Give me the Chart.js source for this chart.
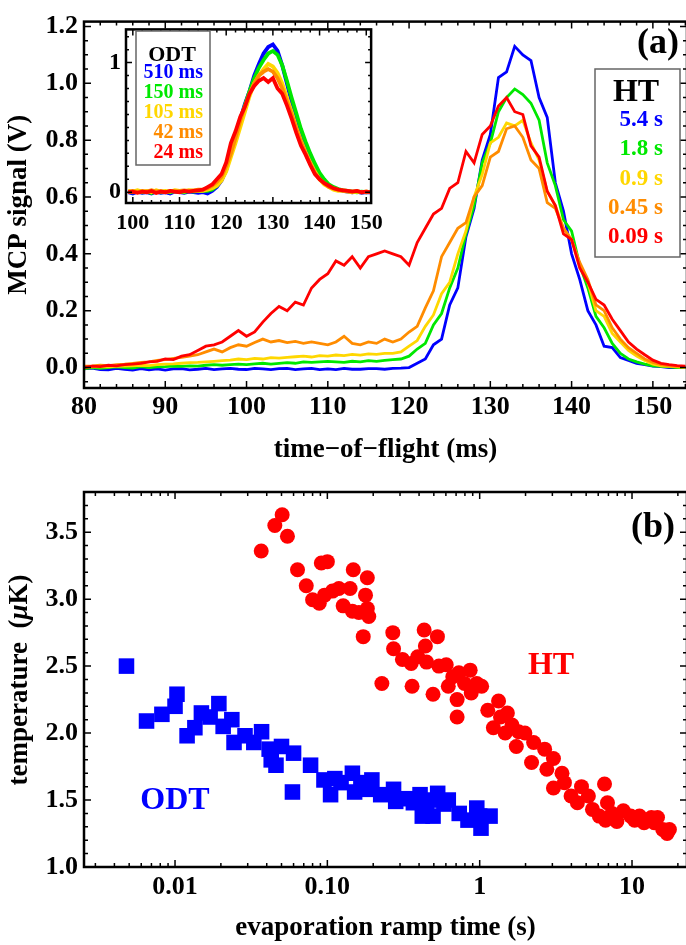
<!DOCTYPE html>
<html>
<head>
<meta charset="utf-8">
<script src="https://cdn.jsdelivr.net/npm/chart.js@4.4.1/dist/chart.umd.min.js"></script>
<style>
    html, body { margin: 0; padding: 0; background: #fff; overflow: hidden; }
    #page { position: relative; width: 686px; height: 945px; overflow: hidden; background: #fff; }
    canvas { position: absolute; }
    #tofChart { left: 0; top: 0; }
    #insetChart { left: 90px; top: 10px; }
    #tempChart { left: 0; top: 470px; }
</style>
</head>
<body>
<div id="page">
    <canvas id="tofChart" width="700" height="470"></canvas>
    <canvas id="insetChart" width="300" height="230"></canvas>
    <canvas id="tempChart" width="700" height="475"></canvas>
</div>
<script>
// (a) time-of-flight traces, HT ramps
const tofTimes = [
    80, 81, 82, 83, 84, 85, 86, 87, 88, 89, 90, 91, 92, 93, 94, 95, 96, 97, 98, 99,
    100, 101, 102, 103, 104, 105, 106, 107, 108, 109, 110, 111, 112, 113, 114, 115, 116, 117, 118, 119,
    120, 121, 122, 123, 124, 125, 126, 127, 128, 129, 130, 131, 132, 133, 134, 135, 136, 137, 138, 139,
    140, 141, 142, 143, 144, 145, 146, 147, 148, 149, 150, 151, 152, 153, 154,
];
const ht54s = [
    -0.005, -0.002, -0.007, -0.008, -0.003, -0.006, -0.009, -0.004, -0.008, -0.005,
    -0.009, -0.005, -0.004, -0.008, -0.006, -0.003, -0.007, -0.005, -0.003, -0.006,
    -0.007, -0.003, -0.005, -0.007, -0.004, -0.003, -0.007, -0.005, -0.003, -0.007,
    -0.005, -0.007, -0.003, -0.006, -0.006, -0.004, -0.004, -0.006, -0.003, -0.002,
    0.0, 0.015, 0.03, 0.08, 0.1, 0.22, 0.28, 0.46, 0.56, 0.73,
    0.82, 1.02, 1.04, 1.13, 1.10, 1.08, 0.95, 0.88, 0.65, 0.55,
    0.40, 0.31, 0.20, 0.15, 0.075, 0.07, 0.035, 0.025, 0.015, 0.01,
    0.005, 0.003, 0.0, 0.0, 0.0,
];
const ht18s = [
    -0.005, 0.0, -0.003, 0.0, 0.002, 0.0, -0.002, 0.003, 0.0, 0.002,
    0.003, 0.005, 0.004, 0.006, 0.005, 0.008, 0.01, 0.008, 0.01, 0.012,
    0.01, 0.013, 0.015, 0.012, 0.015, 0.017, 0.015, 0.02, 0.018, 0.02,
    0.022, 0.02, 0.018, 0.022, 0.02, 0.024, 0.022, 0.025, 0.028, 0.03,
    0.04, 0.065, 0.085, 0.15, 0.19, 0.28, 0.35, 0.47, 0.57, 0.72,
    0.79, 0.9, 0.95, 0.98, 0.96, 0.93, 0.87, 0.72, 0.64, 0.52,
    0.48, 0.36, 0.28, 0.18, 0.14, 0.085, 0.05, 0.03, 0.02, 0.012,
    0.006, 0.004, 0.002, 0.0, 0.0,
];
const ht09s = [
    0.0, 0.002, 0.003, 0.002, 0.004, 0.005, 0.006, 0.008, 0.007, 0.01,
    0.012, 0.013, 0.015, 0.017, 0.018, 0.02, 0.022, 0.024, 0.026, 0.03,
    0.028, 0.032, 0.03, 0.035, 0.033, 0.036, 0.038, 0.04, 0.037, 0.042,
    0.04, 0.044, 0.042, 0.046, 0.044, 0.048, 0.046, 0.05, 0.05, 0.055,
    0.075, 0.095, 0.145, 0.185, 0.26, 0.3, 0.4, 0.48, 0.6, 0.68,
    0.79, 0.81, 0.86, 0.85, 0.87, 0.79, 0.73, 0.62, 0.57, 0.49,
    0.45, 0.36, 0.3, 0.2, 0.18, 0.12, 0.09, 0.06, 0.04, 0.025,
    0.012, 0.006, 0.004, 0.002, 0.0,
];
const ht045s = [
    0.005, 0.006, 0.008, 0.007, 0.01, 0.012, 0.015, 0.018, 0.02, 0.025,
    0.028, 0.032, 0.036, 0.04, 0.045, 0.055, 0.065, 0.055, 0.07, 0.08,
    0.075, 0.088, 0.1, 0.09, 0.095, 0.088, 0.092, 0.085, 0.09, 0.085,
    0.08, 0.09, 0.11, 0.085, 0.08, 0.09, 0.085, 0.1, 0.09, 0.1,
    0.125, 0.145, 0.21, 0.27, 0.39, 0.44, 0.49, 0.51, 0.6, 0.64,
    0.74, 0.76, 0.84, 0.85, 0.81, 0.73, 0.7, 0.58, 0.56, 0.49,
    0.45, 0.37, 0.31, 0.22, 0.2, 0.14, 0.1, 0.07, 0.05, 0.03,
    0.018, 0.01, 0.006, 0.004, 0.002,
];
const ht009s = [
    0.0, 0.005, 0.003, 0.008, 0.006, 0.01, 0.012, 0.015, 0.02, 0.022,
    0.03, 0.028, 0.04, 0.045, 0.06, 0.075, 0.08, 0.09, 0.11, 0.13,
    0.11, 0.125, 0.16, 0.19, 0.215, 0.2, 0.23, 0.22, 0.28, 0.31,
    0.33, 0.375, 0.36, 0.39, 0.35, 0.39, 0.4, 0.41, 0.4, 0.39,
    0.36, 0.44, 0.49, 0.54, 0.56, 0.63, 0.65, 0.76, 0.72, 0.82,
    0.85, 0.92, 0.95, 0.9, 0.89, 0.78, 0.74, 0.62, 0.57, 0.47,
    0.45, 0.35, 0.3, 0.24, 0.22, 0.17, 0.13, 0.09, 0.065, 0.045,
    0.026, 0.015, 0.01, 0.007, 0.005,
];
const htLabels = ['5.4 s', '1.8 s', '0.9 s', '0.45 s', '0.09 s'];

// inset: ODT ramps
const odtTimes = [
    99, 100, 101, 102, 103, 104, 105, 106, 107, 108, 109, 110, 111, 112, 113, 114,
    115, 116, 117, 118, 119, 120, 121, 122, 123, 124, 125, 126, 127, 128, 129, 130,
    131, 132, 133, 134, 135, 136, 137, 138, 139, 140, 141, 142, 143, 144, 145, 146,
    147, 148, 149, 150, 151,
];
const odt510 = [
    0, -0.01, 0.005, -0.005, 0, -0.01, 0.005, -0.005, 0, -0.01, 0.005, 0, -0.005, 0.005, 0, -0.005,
    0.0, -0.01, 0.01, 0.04, 0.09, 0.17, 0.3, 0.42, 0.56, 0.68,
    0.78, 0.9, 0.99, 1.07, 1.12, 1.14, 1.09, 0.98, 0.84, 0.7,
    0.59, 0.46, 0.37, 0.28, 0.2, 0.13, 0.08, 0.05, 0.03, 0.02,
    0.01, 0.005, 0, 0.005, -0.005, 0, 0,
];
const odt150 = [
    0.005, 0, 0.01, 0, 0.005, -0.005, 0.01, 0, 0.005, 0, 0.01, 0.005, 0, 0.01, 0.005, 0.01,
    0.01, 0.01, 0.02, 0.05, 0.1, 0.18, 0.3, 0.42, 0.55, 0.67,
    0.78, 0.88, 0.96, 1.02, 1.07, 1.09, 1.06, 0.98, 0.86, 0.73,
    0.61, 0.49, 0.39, 0.3, 0.22, 0.15, 0.1, 0.06, 0.04, 0.025,
    0.015, 0.01, 0.005, 0, 0.005, 0, 0.005,
];
const odt105 = [
    0.01, 0.005, 0.015, 0.005, 0.01, 0, 0.015, 0.005, 0.01, 0.005, 0.015, 0.01, 0.005, 0.015, 0.01, 0.01,
    0.01, 0.02, 0.03, 0.05, 0.09, 0.16, 0.27, 0.38, 0.5, 0.62,
    0.74, 0.84, 0.9, 0.95, 0.99, 0.97, 0.92, 0.84, 0.73, 0.62,
    0.5, 0.4, 0.31, 0.23, 0.16, 0.1, 0.06, 0.04, 0.02, 0.01,
    0.01, 0.005, 0, 0.005, 0, 0.005, 0,
];
const odt42 = [
    0.005, 0.01, 0, 0.01, 0.005, 0.015, 0.005, 0.01, 0, 0.01, 0.005, 0.01, 0.015, 0.01, 0.015, 0.02,
    0.02, 0.03, 0.05, 0.08, 0.12, 0.2, 0.3, 0.42, 0.55, 0.66,
    0.76, 0.84, 0.9, 0.93, 0.95, 0.93, 0.88, 0.8, 0.7, 0.6,
    0.49, 0.39, 0.3, 0.22, 0.15, 0.1, 0.07, 0.04, 0.03, 0.02,
    0.015, 0.01, 0.005, 0.01, 0, 0.005, 0,
];
const odt24 = [
    0, 0.005, -0.005, 0.005, 0, 0.01, -0.005, 0.005, 0, 0.01, 0.005, 0, 0.01, 0.005, 0.01, 0.015,
    0.02, 0.04, 0.06, 0.1, 0.14, 0.23, 0.38, 0.47, 0.58, 0.66,
    0.76, 0.82, 0.86, 0.88, 0.85, 0.88, 0.8, 0.76, 0.67, 0.57,
    0.46, 0.36, 0.29, 0.21, 0.14, 0.1, 0.07, 0.05, 0.03, 0.02,
    0.015, 0.01, 0.005, 0.01, 0, 0.005, 0,
];
const odtLabels = ['510 ms', '150 ms', '105 ms', '42 ms', '24 ms'];

// (b) temperature vs evaporation ramp time
const odtRampTimes = [
    0.0048, 0.0065, 0.0082, 0.01, 0.0103, 0.012, 0.0135, 0.0149, 0.017, 0.0194,
    0.0207, 0.0236, 0.0244, 0.0288, 0.0329, 0.037, 0.0415, 0.0428, 0.046, 0.05,
    0.06, 0.059, 0.0776, 0.095, 0.105, 0.112, 0.123, 0.146, 0.151, 0.166,
    0.183, 0.196, 0.224, 0.272, 0.281, 0.333, 0.367, 0.406, 0.42, 0.448,
    0.48, 0.494, 0.53, 0.583, 0.622, 0.734, 0.838, 0.957, 1.0, 1.02, 1.17,
];
const odtTemps = [
    2.50, 2.09, 2.14, 2.20, 2.29, 1.98, 2.04, 2.15, 2.12, 2.22,
    2.05, 2.10, 1.93, 1.98, 1.93, 2.01, 1.88, 1.80, 1.76, 1.90,
    1.85, 1.56, 1.76, 1.65, 1.54, 1.66, 1.63, 1.70, 1.56, 1.63,
    1.58, 1.65, 1.54, 1.58, 1.49, 1.51, 1.48, 1.54, 1.38, 1.44,
    1.50, 1.38, 1.55, 1.47, 1.50, 1.40, 1.35, 1.44, 1.38, 1.29, 1.38,
];
const htRampTimes = [
    0.0368, 0.0452, 0.0505, 0.0547, 0.0637, 0.0727, 0.080, 0.0885, 0.0913, 0.1,
    0.0958, 0.108, 0.119, 0.127, 0.141, 0.148, 0.146, 0.161, 0.172, 0.178,
    0.183, 0.183, 0.187, 0.228, 0.269, 0.272, 0.311, 0.355, 0.36, 0.392,
    0.432, 0.44, 0.448, 0.494, 0.528, 0.54, 0.603, 0.622, 0.666, 0.711,
    0.711, 0.73, 0.795, 0.866, 0.88, 0.957, 1.03, 1.13, 1.23, 1.33,
    1.37, 1.47, 1.52, 1.63, 1.74, 1.80, 1.98, 2.19, 2.26, 2.67,
    2.76, 3.05, 3.05, 3.47, 3.6, 3.98, 4.38, 4.66, 5.17, 5.5,
    6.10, 6.6, 6.7, 6.9, 7.4, 7.95, 8.77, 9.8, 10.4, 11.2,
    12.0, 13.4, 14.0, 14.7, 15.9, 17.0, 17.6,
];
const htTemps = [
    3.36, 3.55, 3.63, 3.47, 3.22, 3.10, 2.995, 2.97, 3.27, 3.28,
    3.03, 3.06, 3.08, 2.95, 3.08, 3.22, 2.91, 2.90, 2.72, 3.03,
    3.16, 2.93, 2.87, 2.37, 2.75, 2.63, 2.55, 2.52, 2.35, 2.57,
    2.77, 2.65, 2.53, 2.29, 2.72, 2.50, 2.51, 2.35, 2.42, 2.25,
    2.12, 2.45, 2.37, 2.47, 2.30, 2.37, 2.35, 2.17, 2.04, 2.24,
    2.12, 2.00, 2.15, 2.06, 1.90, 2.01, 2.00, 1.78, 1.93, 1.88,
    1.73, 1.81, 1.59, 1.70, 1.63, 1.53, 1.48, 1.60, 1.53, 1.43,
    1.38, 1.62, 1.35, 1.48, 1.40, 1.34, 1.42, 1.38, 1.35, 1.38,
    1.33, 1.37, 1.33, 1.37, 1.28, 1.25, 1.28,
];

// tick values and labels
const tofXTicks = [80, 90, 100, 110, 120, 130, 140, 150];
const tofYTicks = [0, 0.2, 0.4, 0.6, 0.8, 1.0, 1.2];
const insetXTicks = [100, 110, 120, 130, 140, 150];
const insetYTicks = [0, 1];
const tempXTicks = [0.01, 0.1, 1, 10];
const tempXTickLabels = ['0.01', '0.10', '1', '10'];
const tempYTicks = [1.0, 1.5, 2.0, 2.5, 3.0, 3.5];

const seriesColors = ['#0000ff', '#00e800', '#ffd700', '#ff8c00', '#ff0000'];
const FONT_FAMILY = '"Liberation Serif", "Times New Roman", serif';
const TICK_SIZE = 26;
const TITLE_SIZE = 27;

const main = () => {
    createTofChart();
    createInsetChart();
    createTempChart();
};

/**
 * Values from start to end with a fixed step (used for minor tick marks only).
 */
const steps = (start, end, step) => {
    const ret = [];
    for (let v = start; v <= end + 1e-9; v += step) {
        ret.push(Math.round(v * 1000) / 1000);
    }
    return ret;
};

/**
 * Frame with inward ticks on all four sides.
 */
const frameTicks = {
    id: 'frameTicks',
    afterDatasetsDraw: (chart, args, opts) => {
        const { ctx, chartArea: area, scales } = chart;
        const xScale = scales.x;
        const yScale = scales.y;
        ctx.save();
        ctx.strokeStyle = '#000';
        ctx.lineWidth = opts.tickWidth;
        ctx.beginPath();

        const drawX = (values, len) => {
            values.forEach((v) => {
                const px = xScale.getPixelForValue(v);
                if (px < area.left - 0.5 || px > area.right + 0.5) return;
                ctx.moveTo(px, area.bottom);
                ctx.lineTo(px, area.bottom - len);
                ctx.moveTo(px, area.top);
                ctx.lineTo(px, area.top + len);
            });
        };
        const drawY = (values, len) => {
            values.forEach((v) => {
                const py = yScale.getPixelForValue(v);
                if (py < area.top - 0.5 || py > area.bottom + 0.5) return;
                ctx.moveTo(area.left, py);
                ctx.lineTo(area.left + len, py);
                ctx.moveTo(area.right, py);
                ctx.lineTo(area.right - len, py);
            });
        };

        drawX(opts.xMajor, opts.majorLength);
        drawX(opts.xMinor, opts.minorLength);
        drawY(opts.yMajor, opts.majorLength);
        drawY(opts.yMinor, opts.minorLength);
        ctx.stroke();

        ctx.lineWidth = opts.frameWidth;
        ctx.strokeRect(area.left, area.top, area.right - area.left, area.bottom - area.top);
        ctx.restore();
    },
};

/**
 * Legend boxes and free text labels (a text may be made of plain and italic parts).
 */
const textMarks = {
    id: 'textMarks',
    afterDraw: (chart, args, opts) => {
        const ctx = chart.ctx;
        ctx.save();
        (opts.boxes || []).forEach((box) => {
            ctx.fillStyle = '#fff';
            ctx.fillRect(box.x, box.y, box.w, box.h);
            ctx.strokeStyle = '#666';
            ctx.lineWidth = 1.5;
            ctx.strokeRect(box.x, box.y, box.w, box.h);
        });
        (opts.texts || []).forEach((item) => {
            const parts = item.parts || [{ text: item.text, italic: false }];
            const fontOf = (part) => (part.italic ? 'italic ' : '') + 'bold ' + item.size + 'px ' + FONT_FAMILY;
            let total = 0;
            parts.forEach((part) => {
                ctx.font = fontOf(part);
                total += ctx.measureText(part.text).width;
            });

            ctx.save();
            ctx.translate(item.x, item.y);
            if (item.rotate) {
                ctx.rotate(item.rotate);
            }
            ctx.fillStyle = item.color;
            ctx.textAlign = 'left';
            ctx.textBaseline = 'middle';
            let pos = item.align === 'right' ? -total : item.align === 'center' ? -total / 2 : 0;
            parts.forEach((part) => {
                ctx.font = fontOf(part);
                ctx.fillText(part.text, pos, 0);
                pos += ctx.measureText(part.text).width;
            });
            ctx.restore();
        });
        ctx.restore();
    },
};

const tickFont = (size) => ({ family: FONT_FAMILY, size: size, weight: 'bold' });

/**
 * Builds one line dataset per series.
 */
const lineDatasets = (times, seriesList, labels, width) => {
    return seriesList.map((values, i) => ({
        label: labels[i],
        data: times.map((t, j) => ({ x: t, y: values[j] })),
        borderColor: seriesColors[i],
        backgroundColor: seriesColors[i],
        borderWidth: width,
        pointRadius: 0,
        tension: 0,
        order: seriesList.length - i,
    }));
};

/**
 * Panel (a): time-of-flight traces.
 */
const createTofChart = () => {
    const legendTexts = htLabels.map((label, i) => ({
        text: label, x: 663, y: 120 + i * 29.3, size: 23, color: seriesColors[i], align: 'right',
    }));

    const config = {
        type: 'line',
        data: {
            datasets: lineDatasets(tofTimes, [ht54s, ht18s, ht09s, ht045s, ht009s], htLabels, 2.8),
        },
        options: {
            responsive: false,
            animation: false,
            layout: { padding: { top: 14, right: 13, left: 0, bottom: 0 } },
            plugins: {
                legend: { display: false },
                tooltip: { enabled: false },
                frameTicks: {
                    xMajor: tofXTicks,
                    xMinor: steps(80, 154, 2),
                    yMajor: tofYTicks,
                    yMinor: steps(-0.05, 1.2, 0.05),
                    majorLength: 7,
                    minorLength: 4,
                    tickWidth: 1.5,
                    frameWidth: 2.5,
                },
                textMarks: {
                    boxes: [{ x: 595, y: 69, w: 85, h: 188 }],
                    texts: [
                        { text: '(a)', x: 658, y: 44, size: 36, color: '#000', align: 'center' },
                        { text: 'HT', x: 636, y: 93, size: 32, color: '#000', align: 'center' },
                    ].concat(legendTexts),
                },
            },
            scales: {
                x: {
                    type: 'linear',
                    min: 80,
                    max: 154.2,
                    grid: { display: false, drawTicks: false },
                    border: { display: false },
                    ticks: { font: tickFont(TICK_SIZE), color: '#000', padding: 4, maxRotation: 0, autoSkip: false },
                    afterBuildTicks: (scale) => {
                        scale.ticks = tofXTicks.map((v) => ({ value: v }));
                    },
                    afterFit: (scale) => {
                        scale.height = 82;
                    },
                    title: {
                        display: true,
                        text: 'time\u2212of\u2212flight (ms)',
                        font: tickFont(TITLE_SIZE),
                        color: '#000',
                        padding: { top: 0, bottom: 4 },
                    },
                },
                y: {
                    min: -0.072,
                    max: 1.217,
                    grid: { display: false, drawTicks: false },
                    border: { display: false },
                    ticks: {
                        font: tickFont(TICK_SIZE),
                        color: '#000',
                        padding: 6,
                        callback: (value) => value.toFixed(1),
                    },
                    afterBuildTicks: (scale) => {
                        scale.ticks = tofYTicks.map((v) => ({ value: v }));
                    },
                    afterFit: (scale) => {
                        scale.width = 84;
                    },
                    title: {
                        display: true,
                        text: 'MCP signal (V)',
                        font: tickFont(TITLE_SIZE),
                        color: '#000',
                        padding: { top: 3, bottom: 0 },
                    },
                },
            },
        },
        plugins: [frameTicks, textMarks],
    };

    return new Chart(document.getElementById('tofChart'), config);
};

/**
 * Inset of panel (a): ODT traces.
 */
const createInsetChart = () => {
    const legendTexts = odtLabels.map((label, i) => ({
        text: label, x: 113, y: 63 + i * 20, size: 20, color: seriesColors[i], align: 'right',
    }));

    const config = {
        type: 'line',
        data: {
            datasets: lineDatasets(odtTimes, [odt510, odt150, odt105, odt42, odt24], odtLabels, 3.8),
        },
        options: {
            responsive: false,
            animation: false,
            layout: { padding: { top: 15, right: 12, left: 0, bottom: 0 } },
            plugins: {
                legend: { display: false },
                tooltip: { enabled: false },
                frameTicks: {
                    xMajor: insetXTicks,
                    xMinor: steps(100, 150, 2),
                    yMajor: insetYTicks,
                    yMinor: steps(0.1, 1.2, 0.1),
                    majorLength: 6,
                    minorLength: 3,
                    tickWidth: 1.5,
                    frameWidth: 2.5,
                },
                textMarks: {
                    boxes: [{ x: 46, y: 21, w: 74, h: 134 }],
                    texts: [
                        { text: 'ODT', x: 82, y: 45, size: 22, color: '#000', align: 'center' },
                    ].concat(legendTexts),
                },
            },
            scales: {
                x: {
                    type: 'linear',
                    min: 98.54,
                    max: 151.04,
                    grid: { display: false, drawTicks: false },
                    border: { display: false },
                    ticks: { font: tickFont(22), color: '#000', padding: 7, maxRotation: 0, autoSkip: false },
                    afterBuildTicks: (scale) => {
                        scale.ticks = insetXTicks.map((v) => ({ value: v }));
                    },
                    afterFit: (scale) => {
                        scale.height = 37;
                    },
                },
                y: {
                    min: -0.083,
                    max: 1.256,
                    grid: { display: false, drawTicks: false },
                    border: { display: false },
                    ticks: { font: tickFont(24), color: '#000', padding: 5 },
                    afterBuildTicks: (scale) => {
                        scale.ticks = insetYTicks.map((v) => ({ value: v }));
                    },
                    afterFit: (scale) => {
                        scale.width = 36;
                    },
                },
            },
        },
        plugins: [frameTicks, textMarks],
    };

    return new Chart(document.getElementById('insetChart'), config);
};

/**
 * Panel (b): temperature against evaporation ramp time.
 */
const createTempChart = () => {
    const minorX = [];
    [0.001, 0.01, 0.1, 1, 10].forEach((decade) => {
        for (let m = 2; m <= 9; m++) {
            minorX.push(decade * m);
        }
    });

    const config = {
        type: 'scatter',
        data: {
            datasets: [
                {
                    label: 'ODT',
                    data: odtRampTimes.map((t, i) => ({ x: t, y: odtTemps[i] })),
                    pointStyle: 'rect',
                    pointRadius: 11,
                    backgroundColor: '#0000ff',
                    borderColor: '#0000ff',
                    borderWidth: 0,
                },
                {
                    label: 'HT',
                    data: htRampTimes.map((t, i) => ({ x: t, y: htTemps[i] })),
                    pointStyle: 'circle',
                    pointRadius: 7.5,
                    backgroundColor: '#ff0000',
                    borderColor: '#ff0000',
                    borderWidth: 0,
                },
            ],
        },
        options: {
            responsive: false,
            animation: false,
            layout: { padding: { top: 22, right: 13, left: 0, bottom: 0 } },
            plugins: {
                legend: { display: false },
                tooltip: { enabled: false },
                frameTicks: {
                    xMajor: tempXTicks,
                    xMinor: minorX,
                    yMajor: tempYTicks,
                    yMinor: steps(1.1, 3.8, 0.1),
                    majorLength: 7,
                    minorLength: 4,
                    tickWidth: 1.5,
                    frameWidth: 2.5,
                },
                textMarks: {
                    texts: [
                        { text: '(b)', x: 653, y: 58, size: 36, color: '#000', align: 'center' },
                        { text: 'HT', x: 551, y: 196, size: 32, color: '#ff0000', align: 'center' },
                        { text: 'ODT', x: 175, y: 331, size: 32, color: '#0000ff', align: 'center' },
                        {
                            parts: [
                                { text: 'temperature  (', italic: false },
                                { text: '\u03bc', italic: true },
                                { text: 'K)', italic: false },
                            ],
                            x: 20,
                            y: 210,
                            rotate: -Math.PI / 2,
                            size: TITLE_SIZE,
                            color: '#000',
                            align: 'center',
                        },
                    ],
                },
            },
            scales: {
                x: {
                    type: 'logarithmic',
                    min: 0.002526,
                    max: 22.96,
                    grid: { display: false, drawTicks: false },
                    border: { display: false },
                    ticks: {
                        font: tickFont(TICK_SIZE),
                        color: '#000',
                        padding: 5,
                        maxRotation: 0,
                        autoSkip: false,
                        callback: (value, index) => tempXTickLabels[index],
                    },
                    afterBuildTicks: (scale) => {
                        scale.ticks = tempXTicks.map((v) => ({ value: v }));
                    },
                    afterFit: (scale) => {
                        scale.height = 78;
                    },
                    title: {
                        display: true,
                        text: 'evaporation ramp time (s)',
                        font: tickFont(TITLE_SIZE),
                        color: '#000',
                        padding: { top: 0, bottom: 1 },
                    },
                },
                y: {
                    min: 1.0,
                    max: 3.8,
                    grid: { display: false, drawTicks: false },
                    border: { display: false },
                    ticks: {
                        font: tickFont(TICK_SIZE),
                        color: '#000',
                        padding: 6,
                        callback: (value) => value.toFixed(1),
                    },
                    afterBuildTicks: (scale) => {
                        scale.ticks = tempYTicks.map((v) => ({ value: v }));
                    },
                    afterFit: (scale) => {
                        scale.width = 84;
                    },
                },
            },
        },
        plugins: [frameTicks, textMarks],
    };

    return new Chart(document.getElementById('tempChart'), config);
};

main();
</script>
</body>
</html>
